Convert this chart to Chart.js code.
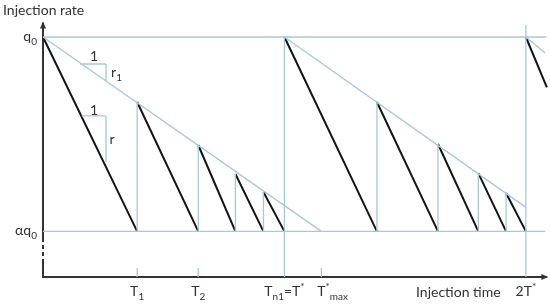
<!DOCTYPE html>
<html><head><meta charset="utf-8">
<script src="https://cdn.jsdelivr.net/npm/chart.js@4.4.0/dist/chart.umd.min.js"></script>
<style>html,body{margin:0;padding:0;background:#fff}#wrap{width:550px;height:305px}</style>
</head><body><div id="wrap"><canvas id="c" width="550" height="305"></canvas></div>
<script>
// ---- data (T* = 10 time units, q0 = 1) ----
const q0 = 1.0;
const alphaQ0 = 0.19;
const cycle1Times = [0, 3.9, 6.43, 7.97, 9.13, 10];
const cycle1Peaks = [1, 0.729, 0.55, 0.429, 0.354];
const cycle2Times = [10, 13.83, 16.36, 18.03, 19.18, 20];
const cycle2Peaks = [1, 0.729, 0.554, 0.433, 0.35];
const cycle3Line = [[20, 1], [20.87, 0.79]];
const envelope1 = [[0, 1], [11.53, 0.19]];
const envelope2 = [[10, 1], [20, 0.29]];
const envelope3 = [[20, 1], [20.8, 0.933]];
const tStar = 10, tStarMax = 11.53, twoTStar = 20, xEnd = 20.85;
const tickTimes = [3.9, 6.43, 11.53];
const tickLabels = [
  {x: 3.9, parts: [['T',''], ['1','sub']]},
  {x: 6.43, parts: [['T',''], ['2','sub']]},
  {x: 10, parts: [['T',''], ['n1','sub'], ['=T',''], ['*','sup']]},
  {x: 11.53, parts: [['T',''], ['*','sup'], ['max','sub']], align: 'leftT'},
  {x: 20, parts: [['2T',''], ['*','sup']]}
];

// ---- build line data ----
const GAP = (x) => ({x: x, y: null});
const black = [], blue = [];
function addCycle(times, peaks) {
  for (let i = 0; i < peaks.length; i++) {
    black.push({x: times[i], y: peaks[i]}, {x: times[i+1], y: alphaQ0}, GAP(times[i+1]));
    if (i + 1 < peaks.length) blue.push({x: times[i+1], y: alphaQ0}, {x: times[i+1], y: peaks[i+1]}, GAP(times[i+1]));
  }
}
addCycle(cycle1Times, cycle1Peaks);
addCycle(cycle2Times, cycle2Peaks);
black.push({x: cycle3Line[0][0], y: cycle3Line[0][1]}, {x: cycle3Line[1][0], y: cycle3Line[1][1]});
function seg(arr, a, b) { arr.push({x: a[0], y: a[1]}, {x: b[0], y: b[1]}, GAP(b[0])); }
seg(blue, [0, q0], [xEnd, q0]);
seg(blue, [0, alphaQ0], [20.8, alphaQ0]);
seg(blue, envelope1[0], envelope1[1]);
seg(blue, envelope2[0], envelope2[1]);
seg(blue, envelope3[0], envelope3[1]);
seg(blue, [tStar, 0], [tStar, q0]);
seg(blue, [twoTStar, 0], [twoTStar, 1.05]);
tickTimes.forEach(t => seg(blue, [t, 0], [t, 0.037]));
// slope triangles
seg(blue, [1.53, 0.8875], [2.61, 0.8875]); seg(blue, [2.61, 0.8875], [2.61, 0.817]);
seg(blue, [1.61, 0.671], [2.61, 0.671]); seg(blue, [2.61, 0.671], [2.61, 0.479]);
const axisSolid = [{x: 0, y: 1.06}, {x: 0, y: 0.1625}, GAP(0), {x: 0, y: 0.0625}, {x: 0, y: 0}, {x: xEnd, y: 0}];
const axisDashed = [{x: 0, y: 0.1625}, {x: 0, y: 0.0625}];

const BLUE = '#a6c9da', TXT = '#333333', FONT = 'Lato, "Liberation Sans", sans-serif';

function drawRich(ctx, parts, x, y, align) {
  const big = '14px ' + FONT, small = '10px ' + FONT;
  let w = 0;
  const ws = parts.map(p => { ctx.font = p[1] ? small : big; const m = ctx.measureText(p[0]).width; w += m; return m; });
  let cx;
  if (align === 'right') cx = x - w;
  else if (align === 'leftT') { ctx.font = big; cx = x - ctx.measureText('T').width / 2; }
  else if (align === 'left') cx = x;
  else cx = x - w / 2;
  ctx.textBaseline = 'alphabetic'; ctx.textAlign = 'left'; ctx.fillStyle = TXT;
  parts.forEach((p, i) => {
    ctx.font = p[1] ? small : big;
    const dy = p[1] === 'sub' ? 4 : (p[1] === 'sup' ? -6 : 0);
    ctx.fillText(p[0], cx, y + dy);
    cx += ws[i];
  });
}

const labelsPlugin = {
  id: 'labels',
  afterDatasetsDraw(chart) {
    const ctx = chart.ctx, xs = chart.scales.x, ys = chart.scales.y;
    const X = v => xs.getPixelForValue(v), Y = v => ys.getPixelForValue(v);
    ctx.save();
    // arrowheads
    ctx.fillStyle = '#333';
    ctx.beginPath(); ctx.moveTo(X(0), Y(1.06) - 1); ctx.lineTo(X(0) - 3, Y(1.06) + 6); ctx.lineTo(X(0) + 3, Y(1.06) + 6); ctx.closePath(); ctx.fill();
    ctx.beginPath(); ctx.moveTo(X(xEnd) + 2, Y(0)); ctx.lineTo(X(xEnd) - 5, Y(0) - 3); ctx.lineTo(X(xEnd) - 5, Y(0) + 3); ctx.closePath(); ctx.fill();
    // axis titles
    ctx.fillStyle = TXT; ctx.font = '14px ' + FONT; ctx.textBaseline = 'middle'; ctx.textAlign = 'left';
    ctx.fillText('Injection rate', 3, 10);
    drawRich(ctx, [['Injection time', '']], X(15.45), Y(0) + 20, 'left');
    // y labels
    drawRich(ctx, [['q', ''], ['0', 'sub']], X(0) - 6, Y(q0) + 4, 'right');
    drawRich(ctx, [['\u03b1q', ''], ['0', 'sub']], X(0) - 6, Y(alphaQ0) + 4, 'right');
    // x tick labels
    tickLabels.forEach(l => drawRich(ctx, l.parts, X(l.x), Y(0) + 19, l.align || 'center'));
    // slope labels
    drawRich(ctx, [['1', '']], X(2.11), Y(0.921) + 5, 'center');
    drawRich(ctx, [['r', ''], ['1', 'sub']], X(2.82), Y(0.85) + 4, 'left');
    drawRich(ctx, [['1', '']], X(2.11), Y(0.696) + 5, 'center');
    drawRich(ctx, [['r', '']], X(2.75), Y(0.571) + 4, 'left');
    ctx.restore();
  }
};

const common = {pointRadius: 0, pointHoverRadius: 0, spanGaps: false, fill: false, tension: 0, clip: false};
new Chart(document.getElementById('c'), {
  type: 'line',
  data: {datasets: [
    Object.assign({data: blue, borderColor: BLUE, borderWidth: 1.3}, common),
    Object.assign({data: black, borderColor: '#141414', borderWidth: 2}, common),
    Object.assign({data: axisSolid, borderColor: '#333', borderWidth: 2}, common),
    Object.assign({data: axisDashed, borderColor: '#333', borderWidth: 2, borderDash: [4, 3]}, common)
  ]},
  options: {
    responsive: false, animation: false, devicePixelRatio: 1,
    layout: {padding: {left: 43, right: 0, top: 13, bottom: 28}},
    plugins: {legend: {display: false}, tooltip: {enabled: false}},
    events: [],
    scales: {
      x: {type: 'linear', min: 0, max: 21, display: false},
      y: {type: 'linear', min: 0, max: 1.1, display: false}
    }
  },
  plugins: [labelsPlugin]
});
</script></body></html>
